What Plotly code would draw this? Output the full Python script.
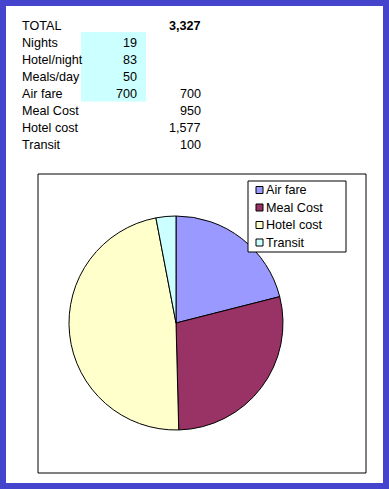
import plotly.graph_objects as go

# ---- data ----
table_labels = ["TOTAL", "Nights", "Hotel/night", "Meals/day", "Air fare", "Meal Cost", "Hotel cost", "Transit"]
input_values = ["", "19", "83", "50", "700", "", "", ""]
computed_values = ["3,327", "", "", "", "700", "950", "1,577", "100"]

categories = ["Air fare", "Meal Cost", "Hotel cost", "Transit"]
costs = [700, 950, 1577, 100]
slice_colors = ["#9999FF", "#993366", "#FFFFCC", "#CCFFFF"]

W, H = 389, 489
FONT = "Liberation Sans, Arial, sans-serif"
FS = 12.6

fig = go.Figure()

fig.add_trace(go.Pie(
    labels=categories, values=costs, sort=False, direction="clockwise", rotation=0,
    marker=dict(colors=slice_colors, line=dict(color="black", width=1)),
    textinfo="none", hoverinfo="label+value+percent",
    domain=dict(x=[69 / W, 283 / W], y=[1 - 430 / H, 1 - 216 / H]),
    showlegend=False,
))

shapes = [
    # blue frame
    dict(type="rect", xref="x", yref="y", x0=3, x1=386, y0=3, y1=486,
         line=dict(color="#4444CC", width=6), fillcolor="rgba(0,0,0,0)", layer="above"),
    # input cells
    dict(type="rect", xref="x", yref="y", x0=81, x1=146, y0=32, y1=101.5,
         line=dict(width=0), fillcolor="#CCFFFF", layer="below"),
    # chart area box
    dict(type="rect", xref="x", yref="y", x0=38, x1=366, y0=174, y1=473,
         line=dict(color="black", width=1), fillcolor="rgba(0,0,0,0)", layer="below"),
    # legend box
    dict(type="rect", xref="x", yref="y", x0=248, x1=346, y0=181, y1=252,
         line=dict(color="black", width=1), fillcolor="white", layer="above"),
]

annotations = []
for i, lab in enumerate(table_labels):
    y = 25.5 + 17 * i
    annotations.append(dict(x=20, y=y, xref="x", yref="y", text=lab, showarrow=False,
                            xanchor="left", yanchor="middle",
                            font=dict(family=FONT, size=FS, color="black")))
    if input_values[i]:
        annotations.append(dict(x=139, y=y, xref="x", yref="y", text=input_values[i], showarrow=False,
                                xanchor="right", yanchor="middle",
                                font=dict(family=FONT, size=FS, color="black")))
    if computed_values[i]:
        txt = computed_values[i] if i else "<b>" + computed_values[i] + "</b>"
        annotations.append(dict(x=203, y=y, xref="x", yref="y", text=txt, showarrow=False,
                                xanchor="right", yanchor="middle",
                                font=dict(family=FONT, size=FS, color="black")))

# legend entries (labels and colours from the data lists)
for i, (lab, col) in enumerate(zip(categories, slice_colors)):
    yc = 190 + 17.5 * i
    shapes.append(dict(type="rect", xref="x", yref="y", x0=256, x1=263, y0=yc - 3.5, y1=yc + 3.5,
                       line=dict(color="black", width=1), fillcolor=col, layer="above"))
    annotations.append(dict(x=264, y=yc, xref="x", yref="y", text=lab, showarrow=False,
                            xanchor="left", yanchor="middle",
                            font=dict(family=FONT, size=FS, color="black")))

fig.update_layout(
    width=W, height=H, margin=dict(l=0, r=0, t=0, b=0),
    paper_bgcolor="white", plot_bgcolor="white",
    xaxis=dict(range=[0, W], visible=False, fixedrange=True, domain=[0, 1]),
    yaxis=dict(range=[H, 0], visible=False, fixedrange=True, domain=[0, 1]),
    shapes=shapes, annotations=annotations,
    showlegend=False,
)

fig.write_html("out.html", config={"displayModeBar": False},
               post_script="document.body.style.margin='0px';document.body.style.overflow='hidden';")
